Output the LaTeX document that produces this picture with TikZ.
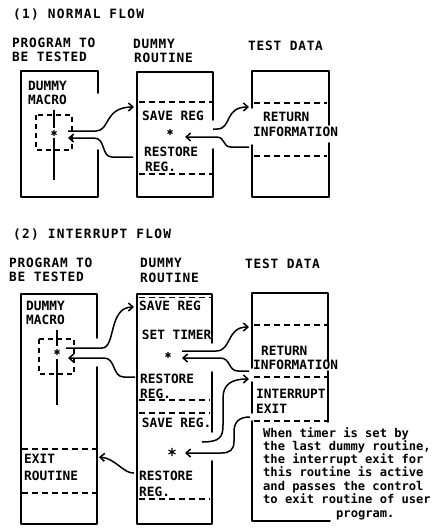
\documentclass[tikz,border=0pt]{standalone}
\usepackage{fontspec}
\usetikzlibrary{arrows.meta}
\newfontfamily\lbfont{DejaVu Sans Mono}
\newfontfamily\hdfont{DejaVu Sans Mono}[LetterSpace=6]
\newfontfamily\ttlfont{DejaVu Sans Mono}[LetterSpace=10]
\tikzset{
  box/.style={line width=1.8pt, line join=round, line cap=round},
  dsh/.style={line width=1.3pt, dash pattern=on 6pt off 4pt},
  dshb/.style={line width=1.2pt, dash pattern=on 5pt off 4pt},
  thin/.style={line width=1.1pt},
  flow/.style={line width=1.5pt, -{Straight Barb[length=4.5pt,width=8pt]}},
  lbl/.style={anchor=base west, inner sep=0pt, font=\lbfont\bfseries\fontsize{12.8}{14}\selectfont},
  hdr/.style={anchor=base west, inner sep=0pt, font=\hdfont\bfseries\fontsize{12.8}{14}\selectfont},
  ttl/.style={anchor=base west, inner sep=0pt, font=\ttlfont\bfseries\fontsize{12.8}{14}\selectfont},
  note/.style={anchor=base west, inner sep=0pt, font=\lbfont\bfseries\fontsize{12.1}{13}\selectfont},
  ast/.pic={\draw[line width=1.1pt] (0,-3)--(0,3) (-2.6,-1.5)--(2.6,1.5) (-2.6,1.5)--(2.6,-1.5);}
}
\begin{document}
\begin{tikzpicture}[x=1pt,y=-1pt]
\useasboundingbox (0,0) rectangle (436,530);

% ===== (1) NORMAL FLOW =====
\node[ttl] (t1) at (13,19) {(1) NORMAL FLOW};
\node[hdr] (h1a) at (12,47) {PROGRAM TO};
\node[hdr] (h1b) at (12,61) {BE TESTED};
\node[hdr] (h1c) at (133,48) {DUMMY};
\node[hdr] (h1d) at (134,62.5) {ROUTINE};
\node[hdr] (h1e) at (248,50) {TEST DATA};

% box 1
\draw[box] (98,93) -- (98,71) -- (21,71) -- (21,197) -- (98,197) -- (98,150);
\node[lbl] (m1a) at (28,90) {DUMMY};
\node[lbl] (m1b) at (28,104.3) {MACRO};
\draw[dshb] (36,115) rectangle (72,150);
\draw[thin] (54,110) -- (54,128) (54,138) -- (54,180);
\coordinate (st1) at (54,133);
\pic at (st1) {ast};

% box 2
\draw[box] (213,120) -- (213,72) -- (137,72) -- (137,197) -- (213,197) -- (213,149);
\draw[dsh] (139,102) -- (212,102);
\draw[dsh] (139,174) -- (212,174);
\node[lbl] (r1a) at (142,120) {SAVE REG};
\coordinate (st2) at (170,132);
\pic at (st2) {ast};
\node[lbl] (r1b) at (144,156.7) {RESTORE};
\node[lbl] (r1c) at (145,171) {REG.};

% box 3
\draw[box] (252,108) -- (252,71) -- (329,71) -- (329,125);
\draw[box] (329,143) -- (329,197) -- (252,197) -- (252,145);
\draw[dsh] (254,103) -- (327,103);
\draw[dsh] (254,156) -- (327,156);
\node[lbl] (d1a) at (263,121.7) {RETURN};
\node[lbl] (d1b) at (253,136) {INFORMATION};

% connectors
\coordinate (a1s) at (68,131); \coordinate (a1e) at (134,107);
\draw[flow] (a1s) -- (96,131) .. controls (110,131) and (104,107) .. (a1e);
\coordinate (a2s) at (133,157); \coordinate (a2e) at (68,138);
\draw[flow] (a2s) -- (112,157) .. controls (101,157) and (106,138) .. (94,138) -- (a2e);
\coordinate (a3s) at (213,129); \coordinate (a3e) at (249,107);
\draw[flow] (a3s) -- (217,129) .. controls (232,129) and (224,107) .. (a3e);
\coordinate (a4s) at (249,147); \coordinate (a4e) at (185,137);
\draw[flow] (a4s) -- (231,147) .. controls (222,147) and (226,137) .. (216,137) -- (a4e);

% ===== (2) INTERRUPT FLOW =====
\node[ttl] (t2) at (13,238) {(2) INTERRUPT FLOW};
\node[hdr] (h2a) at (9,267.7) {PROGRAM TO};
\node[hdr] (h2b) at (9,281) {BE TESTED};
\node[hdr] (h2c) at (140,267.7) {DUMMY};
\node[hdr] (h2d) at (140,282.7) {ROUTINE};
\node[hdr] (h2e) at (245,268.5) {TEST DATA};

% box 1b
\draw[box] (97,338) -- (97,294) -- (21,294) -- (21,524) -- (97,524) -- (97,367);
\node[lbl] (m2a) at (26,310) {DUMMY};
\node[lbl] (m2b) at (26,324.3) {MACRO};
\draw[dshb] (39,339) rectangle (74,374);
\draw[thin] (57,330) -- (57,346) (57,359) -- (57,405);
\coordinate (st3) at (57,352);
\pic at (st3) {ast};
\draw[dsh] (22,449) -- (96,449);
\draw[dsh] (22,493) -- (96,493);
\node[lbl] (x1a) at (24,463) {EXIT};
\node[lbl] (x1b) at (24,480) {ROUTINE};

% box 2b
\draw[box] (212,343) -- (212,294) -- (137,294) -- (137,524) -- (212,524) -- (212,461);
\draw[box] (212,372) -- (212,432);
\draw[dsh] (139,297.5) -- (211,297.5);
\draw[dsh] (139,400) -- (210,400);
\draw[dsh] (139,413) -- (210,413);
\draw[dsh] (139,499) -- (210,499);
\node[lbl] (r2a) at (139,310.5) {SAVE REG};
\node[lbl] (r2b) at (141.7,339) {SET TIMER};
\coordinate (st4) at (168,355);
\pic at (st4) {ast};
\node[lbl] (r2c) at (140,383.7) {RESTORE};
\node[lbl] (r2d) at (140,398) {REG.};
\node[lbl] (r2e) at (141.7,427) {SAVE REG.};
\coordinate (st5) at (172,452);
\pic[scale=1.35] at (st5) {ast};
\node[lbl] (r2f) at (139,480) {RESTORE};
\node[lbl] (r2g) at (139,496) {REG.};

% test data 2
\draw[box] (252,368) -- (252,293) -- (328,293) -- (328,361);
\draw[box] (328,371) -- (328,422);
\draw[box] (252,382) -- (252,413);
\draw[box] (252,421) -- (252,521) -- (330,521);
\draw[dsh] (254,325) -- (327,325);
\draw[dsh] (254,377) -- (327,377);
\draw[dsh] (254,421) -- (327,421);
\node[lbl] (d2a) at (261,355) {RETURN};
\node[lbl] (d2b) at (253,369) {INFORMATION};
\node[lbl] (d2c) at (256,398) {INTERRUPT};
\node[lbl] (d2d) at (256,413) {EXIT};

% annotation
\node[note] (n1) at (263,437) {When timer is set by};
\node[note] (n2) at (263,450.3) {the last dummy routine,};
\node[note] (n3) at (263,463.6) {the interrupt exit for};
\node[note] (n4) at (263,476.8) {this routine is active};
\node[note] (n5) at (263,490) {and passes the control};
\node[note] (n6) at (263,503.2) {to exit routine of user};
\node[note] (n7) at (336,517) {program.};

% connectors
\coordinate (b1s) at (66,348); \coordinate (b1e) at (134,307);
\draw[flow] (b1s) -- (102,348) .. controls (116,348) and (108,307) .. (b1e);
\coordinate (b2s) at (135,377); \coordinate (b2e) at (68,358);
\draw[flow] (b2s) -- (124,377) .. controls (112,377) and (116,358) .. (104,358) -- (b2e);
\coordinate (b3s) at (182,351); \coordinate (b3e) at (249,327);
\draw[flow] (b3s) -- (216,351) .. controls (232,351) and (226,327) .. (b3e);
\coordinate (b4s) at (249,371); \coordinate (b4e) at (182,358);
\draw[flow] (b4s) -- (238,371) .. controls (228,371) and (231,358) .. (220,358) -- (b4e);
\coordinate (b5s) at (202,442); \coordinate (b5e) at (249,379);
\draw[flow] (b5s) .. controls (220,442) and (223,437) .. (223,425) -- (223,398) .. controls (223,384) and (232,379) .. (b5e);
\coordinate (b6s) at (250,417); \coordinate (b6e) at (185,453);
\draw[flow] (b6s) .. controls (239,417) and (234,422) .. (234,432) -- (234,441) .. controls (234,450) and (230,453) .. (221,453) -- (b6e);
\coordinate (b7s) at (134,473); \coordinate (b7e) at (99,457);
\draw[flow] (b7s) .. controls (124,474) and (115,458) .. (b7e);
\end{tikzpicture}
\end{document}
